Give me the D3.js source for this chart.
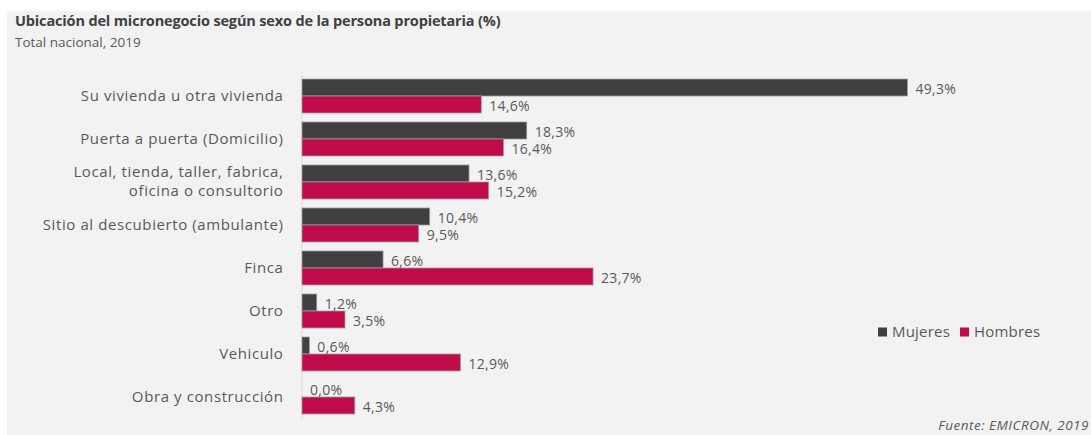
<!DOCTYPE html>
<html>
<head>
<meta charset="utf-8">
<script src="https://cdn.jsdelivr.net/npm/d3@7"></script>
<style>
	html, body { margin: 0; padding: 0; background: #ffffff; }
	svg { display: block; font-family: "Open Sans", sans-serif; }
</style>
</head>
<body>
<svg id="chart" width="1091" height="435"></svg>
<script>
// data
var categories = [
	"Su vivienda u otra vivienda",
	"Puerta a puerta (Domicilio)",
	"Local, tienda, taller, fabrica,\noficina o consultorio",
	"Sitio al descubierto (ambulante)",
	"Finca",
	"Otro",
	"Vehiculo",
	"Obra y construcción"
];
var mujeres = [49.3, 18.3, 13.6, 10.4, 6.6, 1.2, 0.6, 0.0];
var hombres = [14.6, 16.4, 15.2, 9.5, 23.7, 3.5, 12.9, 4.3];
var seriesNames = ["Mujeres", "Hombres"];
var seriesColors = ["#404040", "#c00b4a"];

var svg = d3.select("#chart");
var W = 1091, H = 435;

// panel background
svg.append("rect")
	.attr("x", 7).attr("y", 11)
	.attr("width", W - 7).attr("height", H - 11)
	.attr("fill", "#f2f2f2");

svg.append("text")
	.attr("x", 15).attr("y", 26)
	.attr("font-size", 14.5).attr("font-weight", "bold")
	.attr("letter-spacing", -0.15)
	.attr("fill", "#404040")
	.text("Ubicación del micronegocio según sexo de la persona propietaria (%)");

svg.append("text")
	.attr("x", 15).attr("y", 47)
	.attr("font-size", 13.5)
	.attr("fill", "#595959")
	.text("Total nacional, 2019");

var x = d3.scaleLinear().domain([0, 50]).range([302, 916]);
var y = d3.scaleBand().domain(categories).range([74.5, 418.5])
	.paddingInner(0.21).paddingOuter(0.105);
var ySub = d3.scaleBand().domain(seriesNames).range([0, y.bandwidth()]);

// category axis
var yAxis = svg.append("g")
	.attr("transform", "translate(301.5,0)")
	.call(d3.axisLeft(y).tickSize(0).tickPadding(18));
yAxis.select(".domain").attr("stroke", "#d9d9d9");
yAxis.selectAll(".tick text")
	.attr("font-family", "Open Sans, sans-serif")
	.attr("font-size", 15)
	.attr("letter-spacing", 0.6)
	.attr("fill", "#595959")
	.each(function(d) {
		var lines = d.split("\n");
		if (lines.length < 2) return;
		var t = d3.select(this).text(null);
		lines.forEach(function(l, i) {
			t.append("tspan")
				.attr("x", -18)
				.attr("dy", i == 0 ? "-0.35em" : "1.3em")
				.text(l);
		});
	});

var rows = categories.map(function(c, i) {
	return { cat: c, values: [mujeres[i], hombres[i]] };
});

var groups = svg.selectAll("g.row")
	.data(rows)
	.enter().append("g")
	.attr("class", "row")
	.attr("transform", function(d) { return "translate(0," + y(d.cat) + ")"; });

groups.selectAll("rect")
	.data(function(d) { return d.values.map(function(v, k) { return { k: k, v: v }; }); })
	.enter().append("rect")
	.attr("x", x(0))
	.attr("y", function(d) { return ySub(seriesNames[d.k]); })
	.attr("width", function(d) { return x(d.v) - x(0); })
	.attr("height", ySub.bandwidth())
	.attr("fill", function(d) { return seriesColors[d.k]; })
	.attr("stroke", function(d) { return d.v > 0 ? "#9b98ab" : "none"; })
	.attr("stroke-width", 0.8);

groups.selectAll("text.val")
	.data(function(d) { return d.values.map(function(v, k) { return { k: k, v: v }; }); })
	.enter().append("text")
	.attr("class", "val")
	.attr("x", function(d) { return x(d.v) + 8; })
	.attr("y", function(d) { return ySub(seriesNames[d.k]) + ySub.bandwidth() / 2 + 2; })
	.attr("dy", "0.35em")
	.attr("font-size", 14)
	.attr("letter-spacing", 0.3)
	.attr("fill", "#595959")
	.text(function(d) { return d.v.toFixed(1).replace(".", ",") + "%"; });

// legend
var legend = svg.append("g").attr("transform", "translate(878,332)");
var lx = 0;
seriesNames.forEach(function(name, i) {
	legend.append("rect")
		.attr("x", lx).attr("y", -4.5)
		.attr("width", 9).attr("height", 9)
		.attr("fill", seriesColors[i]);
	var t = legend.append("text")
		.attr("x", lx + 14).attr("y", 0).attr("dy", "0.35em")
		.attr("font-size", 15).attr("letter-spacing", 0.2)
		.attr("fill", "#595959")
		.text(name);
	lx += 14 + t.node().getComputedTextLength() + 10;
});

svg.append("text")
	.attr("x", 1089).attr("y", 430)
	.attr("text-anchor", "end")
	.attr("font-size", 13.5).attr("font-style", "italic")
	.attr("letter-spacing", 0.5)
	.attr("fill", "#595959")
	.text("Fuente: EMICRON, 2019");
</script>
</body>
</html>
